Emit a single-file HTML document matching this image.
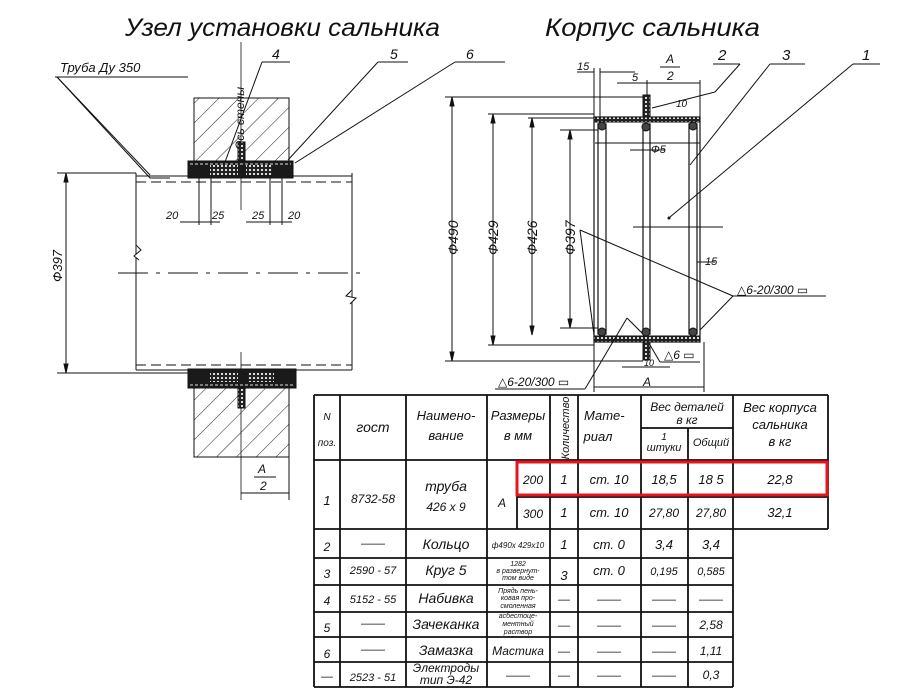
<!DOCTYPE html>
<html><head><meta charset="utf-8"><style>
html,body{margin:0;padding:0;background:#fff;}
svg{display:block;}
text{font-family:"Liberation Sans","DejaVu Sans",sans-serif;font-style:italic;fill:#111;}
</style></head><body>
<svg width="900" height="700" viewBox="0 0 900 700" xmlns="http://www.w3.org/2000/svg">
<defs>
<pattern id="hatch" width="14" height="14" patternUnits="userSpaceOnUse" patternTransform="rotate(45)">
<line x1="0" y1="0" x2="0" y2="14" stroke="#222" stroke-width="1"/>
</pattern>
<pattern id="xh" width="4" height="4" patternUnits="userSpaceOnUse">
<rect width="4" height="4" fill="#222"/><rect x="1" y="1" width="2" height="2" fill="#ddd"/>
</pattern>
</defs>
<g stroke="#111" fill="none" stroke-width="1">

<!-- Titles -->
<text x="125" y="36" font-size="25" textLength="315" lengthAdjust="spacingAndGlyphs" stroke="none">Узел установки сальника</text>
<text x="545" y="36" font-size="25" textLength="215" lengthAdjust="spacingAndGlyphs" stroke="none">Корпус сальника</text>

<!-- ===== LEFT DRAWING ===== -->
<!-- walls -->
<rect x="194" y="98" width="95" height="63" fill="url(#hatch)"/>
<rect x="194" y="388" width="95" height="69" fill="url(#hatch)"/>
<!-- wall axis -->
<line x1="241" y1="42" x2="241" y2="210" stroke-width="0.8"/>
<line x1="241" y1="352" x2="241" y2="500" stroke-width="0.8"/>
<text transform="translate(244,150) rotate(-90)" font-size="12" stroke="none">Ось стены</text>
<!-- glands -->
<rect x="188" y="161" width="105" height="17" fill="#1a1a1a"/>
<rect x="210" y="165" width="28" height="10" fill="url(#xh)" stroke="none"/>
<rect x="246" y="165" width="26" height="10" fill="url(#xh)" stroke="none"/>
<line x1="190" y1="164" x2="291" y2="164" stroke="#ddd" stroke-dasharray="3,2"/>
<rect x="238" y="142" width="7" height="19" fill="url(#xh)"/>
<rect x="188" y="369" width="108" height="19" fill="#1a1a1a"/>
<rect x="210" y="372" width="28" height="10" fill="url(#xh)" stroke="none"/>
<rect x="248" y="372" width="26" height="10" fill="url(#xh)" stroke="none"/>
<line x1="190" y1="385" x2="294" y2="385" stroke="#ddd" stroke-dasharray="3,2"/>
<rect x="238" y="388" width="7" height="20" fill="url(#xh)"/>
<!-- pipe -->
<line x1="136" y1="173" x2="136" y2="370"/>
<line x1="352" y1="173" x2="352" y2="370"/>
<line x1="136" y1="176" x2="188" y2="176"/>
<line x1="293" y1="176" x2="352" y2="176"/>
<line x1="136" y1="182" x2="352" y2="182" stroke-dasharray="10,5"/>
<line x1="136" y1="365" x2="352" y2="365" stroke-dasharray="10,5"/>
<line x1="136" y1="370" x2="188" y2="370"/>
<line x1="296" y1="370" x2="352" y2="370"/>
<polyline points="136,245 141,250 134,256 139,260" fill="#fff"/>
<polyline points="352,290 346,296 356,298 350,304" fill="#fff"/>
<line x1="118" y1="273" x2="362" y2="273" stroke-dasharray="30,8,4,8"/>
<!-- dim 397 -->
<line x1="57" y1="173" x2="136" y2="173"/>
<line x1="57" y1="373" x2="188" y2="373"/>
<line x1="66" y1="173" x2="66" y2="373"/>
<path d="M66,173 l-2,9 l4,0z M66,373 l-2,-9 l4,0z" fill="#111"/>
<text transform="translate(62,282) rotate(-90)" font-size="13" stroke="none">Ф397</text>
<!-- small dims 20/25 -->
<line x1="199" y1="178" x2="199" y2="225"/>
<line x1="211" y1="178" x2="211" y2="225"/>
<line x1="270" y1="178" x2="270" y2="225"/>
<line x1="282" y1="178" x2="282" y2="225"/>
<line x1="180" y1="222" x2="220" y2="222"/>
<line x1="246" y1="222" x2="292" y2="222"/>
<text x="166" y="219" font-size="11" stroke="none">20</text>
<text x="212" y="219" font-size="11" stroke="none">25</text>
<text x="252" y="219" font-size="11" stroke="none">25</text>
<text x="288" y="219" font-size="11" stroke="none">20</text>
<!-- A/2 bottom -->
<line x1="289" y1="392" x2="289" y2="500"/>
<line x1="241" y1="493" x2="289" y2="493"/>
<text x="258" y="473" font-size="12" stroke="none">А</text>
<line x1="254" y1="477" x2="276" y2="477"/>
<text x="260" y="490" font-size="12" stroke="none">2</text>
<!-- leaders -->
<text x="60" y="72" font-size="13" stroke="none">Труба  Ду 350</text>
<line x1="55" y1="77" x2="188" y2="77"/>
<polyline points="57,77 150,178 170,178"/>
<line x1="57" y1="77" x2="150" y2="175"/>
<text x="272" y="59" font-size="14" stroke="none">4</text>
<line x1="262" y1="62" x2="290" y2="62"/>
<line x1="262" y1="62" x2="225" y2="162"/>
<text x="390" y="59" font-size="14" stroke="none">5</text>
<line x1="378" y1="62" x2="408" y2="62"/>
<line x1="378" y1="62" x2="288" y2="160"/>
<text x="466" y="59" font-size="14" stroke="none">6</text>
<line x1="455" y1="62" x2="505" y2="62"/>
<line x1="455" y1="62" x2="295" y2="163"/>

<!-- ===== RIGHT DRAWING ===== -->
<rect x="594" y="117" width="106" height="225" stroke-width="1.2"/>
<rect x="594" y="117" width="106" height="5" fill="url(#xh)"/>
<rect x="594" y="336" width="106" height="6" fill="url(#xh)"/>
<rect x="643" y="95" width="7" height="22" fill="url(#xh)"/>
<rect x="643" y="342" width="7" height="18" fill="url(#xh)"/>
<!-- rods -->
<g stroke-width="1.2">
<rect x="598" y="124" width="8" height="210"/>
<rect x="643" y="124" width="7" height="210"/>
<rect x="689" y="124" width="8" height="210"/>
</g>
<circle cx="602" cy="126" r="4" fill="#444"/><circle cx="646" cy="127" r="4" fill="#444"/><circle cx="693" cy="126" r="4" fill="#444"/>
<circle cx="602" cy="332" r="4" fill="#444"/><circle cx="646" cy="332" r="4" fill="#444"/><circle cx="693" cy="332" r="4" fill="#444"/>
<line x1="595" y1="143" x2="700" y2="143" stroke-dasharray="1,0"/>
<!-- dims -->
<line x1="445" y1="97" x2="643" y2="97"/>
<line x1="445" y1="361" x2="643" y2="361"/>
<line x1="452" y1="97" x2="452" y2="361"/>
<text transform="translate(458,255) rotate(-90)" font-size="14" stroke="none">Ф490</text>
<line x1="488" y1="114" x2="594" y2="114"/>
<line x1="488" y1="345" x2="594" y2="345"/>
<line x1="493" y1="114" x2="493" y2="345"/>
<text transform="translate(498,255) rotate(-90)" font-size="14" stroke="none">Ф429</text>
<line x1="528" y1="118" x2="594" y2="118"/>
<line x1="532" y1="118" x2="532" y2="335"/>
<text transform="translate(537,255) rotate(-90)" font-size="14" stroke="none">Ф426</text>
<line x1="560" y1="130" x2="598" y2="130"/>
<line x1="560" y1="328" x2="598" y2="328"/>
<line x1="570" y1="130" x2="570" y2="328"/>
<text transform="translate(575,255) rotate(-90)" font-size="14" stroke="none">Ф397</text>
<path d="M452,97 l-2,9 l4,0z M452,361 l-2,-9 l4,0z M493,114 l-2,9 l4,0z M493,345 l-2,-9 l4,0z M532,118 l-2,9 l4,0z M532,335 l-2,-9 l4,0z M570,130 l-2,9 l4,0z M570,328 l-2,-9 l4,0z" fill="#111"/>
<!-- top dims -->
<line x1="594" y1="68" x2="594" y2="117"/>
<line x1="600" y1="68" x2="600" y2="117"/>
<line x1="700" y1="80" x2="700" y2="117"/>
<line x1="647" y1="80" x2="647" y2="95"/>
<line x1="577" y1="72" x2="594" y2="72"/>
<line x1="600" y1="72" x2="635" y2="72"/>
<line x1="617" y1="83" x2="700" y2="83"/>
<text x="577" y="70" font-size="11" stroke="none">15</text>
<text x="632" y="81" font-size="11" stroke="none">5</text>
<text x="666" y="63" font-size="12" stroke="none">А</text>
<line x1="660" y1="67" x2="680" y2="67"/>
<text x="667" y="80" font-size="12" stroke="none">2</text>
<text x="676" y="107" font-size="10" stroke="none">10</text>
<text x="651" y="153" font-size="11" stroke="none">Ф5</text>
<line x1="630" y1="150" x2="665" y2="150"/>
<text x="705" y="265" font-size="11" stroke="none">15</text>
<line x1="697" y1="262" x2="715" y2="262"/>
<line x1="633" y1="227" x2="723" y2="227"/>
<!-- bottom dims -->
<line x1="594" y1="342" x2="594" y2="392"/>
<line x1="704" y1="342" x2="704" y2="392"/>
<line x1="594" y1="387" x2="704" y2="387"/>
<text x="643" y="386" font-size="12" stroke="none">А</text>
<line x1="622" y1="367" x2="670" y2="367"/>
<text x="644" y="366" font-size="9" stroke="none">10</text>
<!-- welds -->
<text x="737" y="294" font-size="12" stroke="none">△6-20/300 ▭</text>
<line x1="733" y1="296" x2="826" y2="296"/>
<line x1="733" y1="296" x2="700" y2="330"/>
<polyline points="580,230 733,296"/>
<polyline points="580,230 594,335"/>
<text x="498" y="386" font-size="12" stroke="none">△6-20/300 ▭</text>
<line x1="495" y1="389" x2="585" y2="389"/>
<line x1="585" y1="389" x2="627" y2="318"/>
<line x1="627" y1="318" x2="643" y2="334"/>
<text x="664" y="359" font-size="12" stroke="none">△6 ▭</text>
<line x1="660" y1="362" x2="700" y2="362"/>
<line x1="660" y1="362" x2="650" y2="345"/>
<!-- part labels -->
<text x="718" y="60" font-size="15" stroke="none">2</text>
<line x1="713" y1="64" x2="740" y2="64"/>
<line x1="740" y1="64" x2="715" y2="92"/>
<line x1="715" y1="92" x2="652" y2="108"/>
<text x="782" y="60" font-size="15" stroke="none">3</text>
<line x1="770" y1="64" x2="805" y2="64"/>
<line x1="770" y1="64" x2="690" y2="165"/>
<text x="862" y="60" font-size="15" stroke="none">1</text>
<line x1="853" y1="64" x2="880" y2="64"/>
<line x1="853" y1="64" x2="670" y2="217"/>
<circle cx="669" cy="218" r="1" fill="#111"/>

<!-- ===== TABLE ===== -->
<g stroke-width="1.8">
<line x1="314" y1="395" x2="828" y2="395"/>
<line x1="314" y1="460" x2="828" y2="460"/>
<line x1="314" y1="529" x2="828" y2="529"/>
<line x1="517" y1="497" x2="828" y2="497"/>
<line x1="641" y1="428" x2="733" y2="428"/>
<line x1="314" y1="558" x2="733" y2="558"/>
<line x1="314" y1="585" x2="733" y2="585"/>
<line x1="314" y1="612" x2="733" y2="612"/>
<line x1="314" y1="637" x2="733" y2="637"/>
<line x1="314" y1="662" x2="733" y2="662"/>
<line x1="314" y1="687" x2="733" y2="687"/>
<line x1="314" y1="395" x2="314" y2="687"/>
<line x1="340" y1="395" x2="340" y2="687"/>
<line x1="406" y1="395" x2="406" y2="687"/>
<line x1="487" y1="395" x2="487" y2="687"/>
<line x1="517" y1="460" x2="517" y2="529"/>
<line x1="550" y1="395" x2="550" y2="687"/>
<line x1="578" y1="395" x2="578" y2="687"/>
<line x1="641" y1="395" x2="641" y2="687"/>
<line x1="688" y1="428" x2="688" y2="687"/>
<line x1="733" y1="395" x2="733" y2="687"/>
<line x1="828" y1="395" x2="828" y2="529"/>
</g>
<rect x="517" y="462" width="310" height="33" stroke="#e8161b" stroke-width="3"/>
</g>
<g font-size="12" text-anchor="middle">
<text x="327" y="420" font-size="10">N</text>
<text x="327" y="446" font-size="10">поз.</text>
<text x="373" y="432" font-size="14">гост</text>
<text x="446" y="420" font-size="13">Наимено-</text>
<text x="446" y="440" font-size="13">вание</text>
<text x="518" y="420" font-size="13">Размеры</text>
<text x="518" y="440" font-size="13">в мм</text>
<text transform="translate(569,428) rotate(-90)" font-size="11">Количество</text>
<text x="610" y="420" font-size="13" text-anchor="start" dx="-26">Мате-</text>
<text x="598" y="441" font-size="13">риал</text>
<text x="687" y="411" font-size="12">Вес деталей</text>
<text x="687" y="424" font-size="12">в кг</text>
<text x="664" y="440" font-size="10">1</text>
<text x="664" y="451" font-size="11">штуки</text>
<text x="711" y="446" font-size="11">Общий</text>
<text x="780" y="412" font-size="13">Вес корпуса</text>
<text x="780" y="429" font-size="13">сальника</text>
<text x="780" y="446" font-size="13">в кг</text>

<text x="327" y="505" font-size="13">1</text>
<text x="373" y="503" font-size="12">8732-58</text>
<text x="446" y="491" font-size="14">труба</text>
<text x="446" y="511" font-size="12">426 x 9</text>
<text x="502" y="507" font-size="12">А</text>
<text x="533" y="484" font-size="12">200</text>
<text x="533" y="518" font-size="12">300</text>
<text x="564" y="484" font-size="13">1</text>
<text x="564" y="517" font-size="13">1</text>
<text x="609" y="484" font-size="13">ст. 10</text>
<text x="609" y="517" font-size="13">ст. 10</text>
<text x="664" y="484" font-size="13">18,5</text>
<text x="664" y="517" font-size="12">27,80</text>
<text x="711" y="484" font-size="13">18 5</text>
<text x="711" y="517" font-size="12">27,80</text>
<text x="780" y="484" font-size="13">22,8</text>
<text x="780" y="517" font-size="13">32,1</text>

<text x="327" y="551" font-size="12">2</text>
<text x="373" y="547">——</text>
<text x="446" y="549" font-size="14">Кольцо</text>
<text x="518" y="548" font-size="8">ф490x 429x10</text>
<text x="564" y="549" font-size="13">1</text>
<text x="609" y="549" font-size="13">ст. 0</text>
<text x="664" y="549" font-size="13">3,4</text>
<text x="711" y="549" font-size="13">3,4</text>

<text x="327" y="578" font-size="12">3</text>
<text x="373" y="574" font-size="11">2590 - 57</text>
<text x="446" y="575" font-size="14">Круг 5</text>
<text x="518" y="566" font-size="7">1282</text>
<text x="518" y="573" font-size="7">в развернут-</text>
<text x="518" y="580" font-size="7">том виде</text>
<text x="564" y="580" font-size="13">3</text>
<text x="609" y="575" font-size="13">ст. 0</text>
<text x="664" y="575" font-size="11">0,195</text>
<text x="711" y="575" font-size="11">0,585</text>

<text x="327" y="605" font-size="12">4</text>
<text x="373" y="603" font-size="11">5152 - 55</text>
<text x="446" y="603" font-size="14">Набивка</text>
<text x="518" y="593" font-size="7">Прядь пень-</text>
<text x="518" y="600" font-size="7">ковая про-</text>
<text x="518" y="608" font-size="7">смоленная</text>
<text x="564" y="603">—</text><text x="609" y="603">——</text><text x="664" y="603">——</text><text x="711" y="603">——</text>

<text x="327" y="632" font-size="12">5</text>
<text x="373" y="627">——</text>
<text x="446" y="629" font-size="14">Зачеканка</text>
<text x="518" y="618" font-size="7">асбестоце-</text>
<text x="518" y="626" font-size="7">ментный</text>
<text x="518" y="634" font-size="7">раствор</text>
<text x="564" y="629">—</text><text x="609" y="629">——</text><text x="664" y="629">——</text>
<text x="711" y="629" font-size="12">2,58</text>

<text x="327" y="658" font-size="12">6</text>
<text x="373" y="653">——</text>
<text x="446" y="655" font-size="14">Замазка</text>
<text x="518" y="655" font-size="12">Мастика</text>
<text x="564" y="655">—</text><text x="609" y="655">——</text><text x="664" y="655">——</text>
<text x="711" y="655" font-size="12">1,11</text>

<text x="327" y="680">—</text>
<text x="373" y="681" font-size="11">2523 - 51</text>
<text x="446" y="672" font-size="12">Электроды</text>
<text x="446" y="684" font-size="12">тип Э-42</text>
<text x="518" y="679">——</text>
<text x="564" y="679">—</text><text x="609" y="679">——</text><text x="664" y="679">——</text>
<text x="711" y="679" font-size="12">0,3</text>
</g>
</svg>
</body></html>
